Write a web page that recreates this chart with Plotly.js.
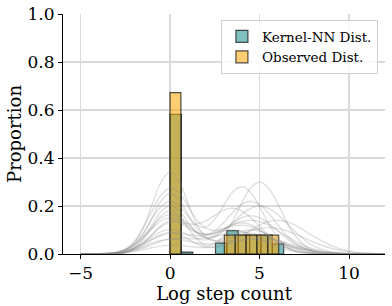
<!DOCTYPE html>
<html>
<head>
<meta charset="utf-8">
<script src="https://cdn.plot.ly/plotly-3.0.1.min.js"></script>
<style>html,body{margin:0;padding:0;background:#fff;}#chart{width:392px;height:306px;}</style>
</head>
<body>
<div id="chart"></div>
<script>
// ---- histogram data (proportions) ----
const kernelBinLeft = [0, 0.635, 1.27, 1.905, 2.54, 3.175, 3.81, 4.445, 5.08, 5.715];
const kernelBinWidth = 0.635;
const kernelProps = [0.582, 0.008, 0, 0, 0.045, 0.097, 0.079, 0.079, 0.079, 0.042];

const observedBinLeft = [0, 0.607, 1.214, 1.821, 2.428, 3.035, 3.642, 4.249, 4.856, 5.463];
const observedBinWidth = 0.607;
const observedProps = [0.672, 0, 0, 0, 0, 0.079, 0.079, 0.079, 0.079, 0.079];

// ---- grey density curves ----
const curveX = [-5,-4,-3,-2.5,-2,-1.5,-1,-0.5,0,0.5,1,1.5,2,2.5,3,3.5,4,4.5,5,5.5,6,6.5,7,8,9,10,11,12];
const curve01 = [0,0,.004,.015,.046,.111,.206,.300,.341,.303,.213,.124,.071,.056,.064,.081,.095,.100,.095,.080,.061,.041,.025,.007,.001,0,0,0];
const curve02 = [0,0,.0065,.021,.052,.107,.180,.246,.275,.255,.200,.142,.107,.098,.106,.116,.120,.114,.099,.077,.055,.035,.021,.005,.001,0,0,0];
const curve03 = [0,0,.005,.017,.042,.087,.146,.198,.221,.202,.158,.119,.112,.145,.203,.258,.280,.257,.198,.128,.070,.032,.012,.001,0,0,0,0];
const curve04 = [0,0,.002,.008,.024,.059,.109,.159,.180,.160,.110,.063,.037,.042,.077,.137,.212,.275,.300,.275,.212,.137,.075,.013,.001,0,0,0];
const curve05 = [0,.001,.007,.017,.037,.069,.106,.138,.151,.142,.116,.091,.082,.096,.131,.173,.207,.220,.206,.171,.124,.079,.045,.010,.001,0,0,0];
const curve06 = [0,0,.003,.009,.023,.048,.081,.114,.133,.134,.126,.125,.138,.161,.183,.191,.180,.152,.115,.078,.047,.026,.013,.002,0,0,0,0];
const curve07 = [0,0,.004,.011,.025,.046,.071,.093,.102,.096,.080,.064,.059,.070,.096,.130,.165,.190,.200,.190,.165,.129,.092,.034,.009,.002,0,0];
const curve08 = [0,.001,.006,.013,.024,.042,.061,.077,.086,.086,.081,.076,.077,.088,.105,.122,.136,.140,.135,.120,.099,.075,.053,.021,.006,.001,0,0];
const curve09 = [0,.001,.004,.009,.018,.031,.046,.057,.063,.061,.054,.046,.042,.045,.054,.069,.084,.097,.107,.110,.107,.097,.083,.050,.024,.009,.003,.001];
const curve10 = [0,0,.002,.006,.013,.025,.039,.053,.062,.065,.064,.064,.067,.074,.081,.088,.090,.087,.079,.068,.055,.041,.029,.012,.004,.001,0,0];
const curve11 = [0,0,.002,.009,.027,.065,.121,.177,.202,.181,.132,.087,.067,.075,.099,.128,.151,.160,.151,.128,.097,.066,.040,.011,.002,0,0,0];
const curve12 = [0,0,.001,.006,.018,.043,.081,.119,.139,.132,.109,.088,.082,.088,.096,.100,.095,.082,.064,.046,.030,.017,.009,.002,0,0,0,0];
const curve13 = [0,.001,.007,.018,.040,.074,.114,.150,.165,.155,.126,.093,.067,.054,.052,.055,.059,.060,.058,.053,.045,.036,.027,.013,.005,.001,0,0];
const curve14 = [0,0,.002,.007,.017,.036,.060,.081,.091,.082,.063,.042,.029,.028,.037,.054,.075,.099,.120,.135,.140,.135,.120,.075,.035,.012,.003,.001];
const curve15 = [0,0,.003,.011,.034,.081,.152,.221,.252,.227,.165,.107,.081,.084,.104,.122,.130,.122,.101,.073,.047,.026,.013,.002,0,0,0,0];
const curve16 = [0,0,.0025,.005,.011,.018,.026,.034,.036,.036,.032,.028,.027,.030,.037,.047,.056,.063,.065,.063,.056,.046,.035,.016,.006,.001,0,0];
const curves = [curve01,curve02,curve03,curve04,curve05,curve06,curve07,curve08,curve09,curve10,curve11,curve12,curve13,curve14,curve15,curve16];

const seriesNames = ["Kernel-NN Dist.", "Observed Dist."];
const xTicks = [-5, 0, 5, 10];
const yTicks = [0, 0.2, 0.4, 0.6, 0.8, 1.0];
const xTitle = "Log step count";
const yTitle = "Proportion";

// ---- build traces ----
const traces = [];
curves.forEach(c => {
  traces.push({
    type: 'scatter', mode: 'lines', x: curveX, y: c,
    line: {color: 'rgba(140,140,140,0.28)', width: 1.4, shape: 'spline', smoothing: 1},
    hoverinfo: 'skip', showlegend: false
  });
});

function barTrace(left, width, props, name, fill) {
  const xs = [], ys = [];
  left.forEach((l, i) => { if (props[i] > 0) { xs.push(l + width / 2); ys.push(props[i]); } });
  return {
    type: 'bar', x: xs, y: ys, width: width, name: name,
    marker: {color: fill, line: {color: 'rgba(20,20,20,0.75)', width: 1.2}}
  };
}
traces.push(barTrace(kernelBinLeft, kernelBinWidth, kernelProps, seriesNames[0], 'rgba(0,128,128,0.5)'));
traces.push(barTrace(observedBinLeft, observedBinWidth, observedProps, seriesNames[1], 'rgba(255,165,0,0.55)'));

const font = "DejaVu Serif, serif";
const layout = {
  width: 392, height: 306,
  margin: {l: 63, r: 7, t: 14, b: 52},
  paper_bgcolor: '#fff', plot_bgcolor: '#fff',
  barmode: 'overlay',
  font: {family: font, color: '#000', size: 17},
  xaxis: {
    range: [-5.98, 12.01], tickvals: xTicks, ticktext: xTicks.map(v => v < 0 ? '\u2212' + Math.abs(v) : String(v)),
    showgrid: true, gridcolor: '#dadada', gridwidth: 1.5, zeroline: false,
    showline: true, linecolor: '#000', linewidth: 1,
    ticks: 'outside', ticklen: 4, tickcolor: '#000', tickfont: {size: 17, family: font},
    title: {text: xTitle, font: {size: 18, family: font}, standoff: 3}
  },
  yaxis: {
    range: [0, 1.0], tickvals: yTicks, ticktext: yTicks.map(v => v.toFixed(1)),
    showgrid: true, gridcolor: '#dadada', gridwidth: 1.5, zeroline: false,
    showline: true, linecolor: '#000', linewidth: 1,
    ticks: 'outside', ticklen: 4, tickcolor: '#000', tickfont: {size: 17, family: font},
    title: {text: yTitle, font: {size: 18, family: font}, standoff: 1}
  },
  legend: {
    x: 0.978, y: 0.975, xanchor: 'right', yanchor: 'top',
    bgcolor: 'rgba(255,255,255,0.85)', bordercolor: '#d0d0d0', borderwidth: 1,
    font: {size: 13.5, family: font}, traceorder: 'normal'
  },
  showlegend: true
};

Plotly.newPlot('chart', traces, layout, {displayModeBar: false, staticPlot: true});
</script>
</body>
</html>
